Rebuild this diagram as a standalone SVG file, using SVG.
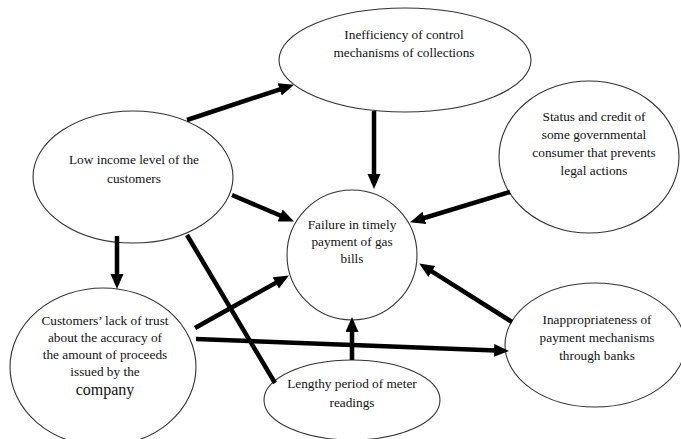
<svg xmlns="http://www.w3.org/2000/svg" width="681" height="439" viewBox="0 0 681 439">
<style>
  .node ellipse, .node circle { fill: #fff; stroke: #333; stroke-width: 1.1; }
  text { font-family: "Liberation Serif", "Times New Roman", serif; font-size: 13.3px; fill: #111; text-anchor: middle; }
  .big { font-size: 16px; }
  .conn line { stroke: #000; stroke-width: 4.5; fill: none; }
  .arr { marker-end: url(#ah); }
</style>
<defs>
  <marker id="ah" markerUnits="userSpaceOnUse" markerWidth="16" markerHeight="14" refX="2" refY="6.5" orient="auto">
    <path d="M0,0 L15,6.5 L0,13 z" fill="#000"/>
  </marker>
</defs>
<rect width="681" height="439" fill="#fff"/>
<g id="n-inefficiency" class="node">
  <ellipse cx="405" cy="60" rx="126" ry="52"/>
  <text x="404" y="39">Inefficiency of control</text>
  <text x="404" y="57">mechanisms of collections</text>
</g>
<g id="n-status" class="node">
  <ellipse cx="589" cy="157" rx="90" ry="76"/>
  <text x="594" y="121">Status  and credit of</text>
  <text x="594" y="139">some governmental</text>
  <text x="594" y="157">consumer that prevents</text>
  <text x="594" y="175">legal actions</text>
</g>
<g id="n-lowincome" class="node">
  <ellipse cx="133" cy="177" rx="100" ry="66"/>
  <text x="134" y="164">Low income level  of the</text>
  <text x="134" y="183">customers</text>
</g>
<g id="n-failure" class="node">
  <circle cx="352" cy="255" r="65"/>
  <text x="352" y="229">Failure in timely</text>
  <text x="352" y="246">payment of gas</text>
  <text x="352" y="263">bills</text>
</g>
<g id="n-trust" class="node">
  <ellipse cx="103" cy="367" rx="93" ry="79"/>
  <text x="105" y="325">Customers’ lack of trust</text>
  <text x="105" y="342">about the accuracy of</text>
  <text x="105" y="359">the amount of proceeds</text>
  <text x="105" y="376">issued by the</text>
  <text x="105" y="395" class="big">company</text>
</g>
<g id="n-lengthy" class="node">
  <ellipse cx="352" cy="400" rx="88" ry="40"/>
  <text x="352" y="388">Lengthy period of meter</text>
  <text x="352" y="407">readings</text>
</g>
<g id="n-inappropriate" class="node">
  <ellipse cx="595" cy="345" rx="90" ry="62"/>
  <text x="597" y="324">Inappropriateness of</text>
  <text x="597" y="342">payment mechanisms</text>
  <text x="597" y="360">through banks</text>
</g>
<g id="connectors" class="conn">
  <line class="arr" x1="187" y1="120" x2="281.6" y2="88.8"/>
  <line class="arr" x1="374" y1="111" x2="374" y2="176"/>
  <line class="arr" x1="232" y1="195" x2="282" y2="216.3"/>
  <line class="arr" x1="510" y1="192" x2="422.5" y2="218.5"/>
  <line class="arr" x1="512" y1="322" x2="430.2" y2="270.4"/>
  <line class="arr" x1="195" y1="328" x2="277.5" y2="281.9"/>
  <line class="arr" x1="196" y1="339" x2="496" y2="350.5"/>
  <line class="arr" x1="352" y1="360" x2="352" y2="330"/>
  <line class="arr" x1="117" y1="236" x2="117" y2="276"/>
  <line x1="187" y1="235" x2="275" y2="383"/>
</g>
</svg>
